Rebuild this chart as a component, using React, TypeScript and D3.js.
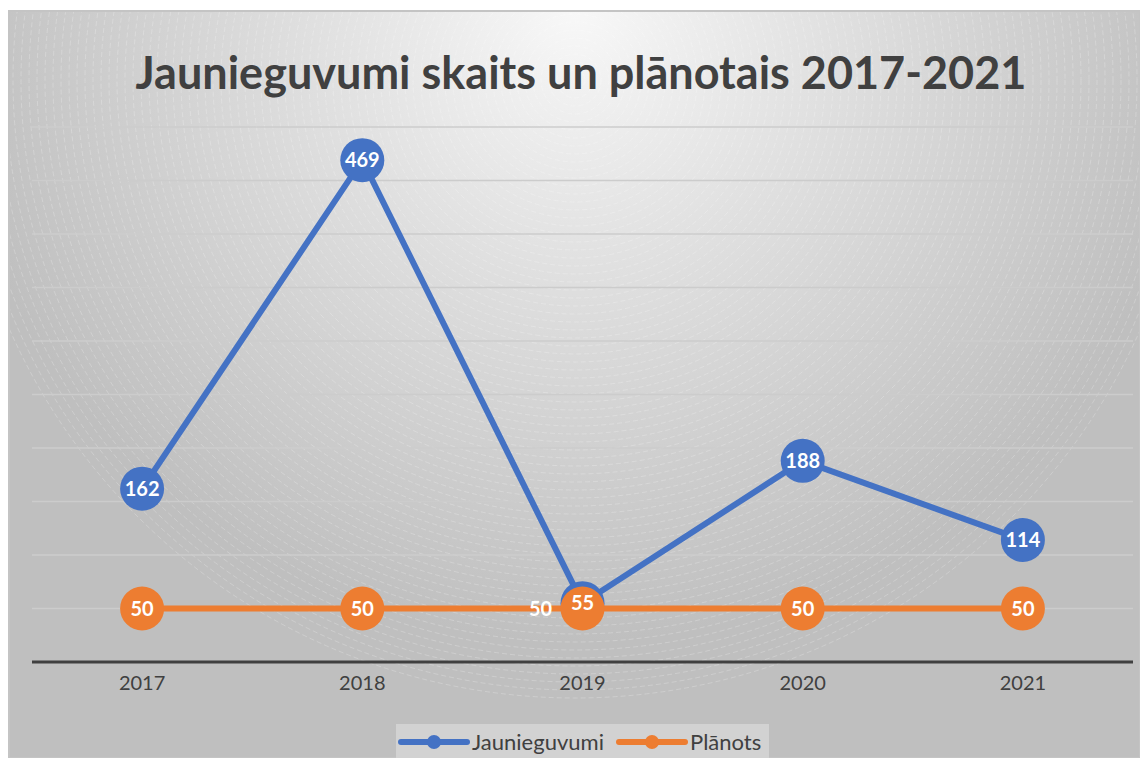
import React from "react";
import * as d3 from "d3";

const years = ["2017", "2018", "2019", "2020", "2021"];
const jaunieguvumi = [162, 469, 55, 188, 114];
const planots = [50, 50, 50, 50, 50];
const yTicks = [0, 50, 100, 150, 200, 250, 300, 350, 400, 450, 500];
const seriesNames = ["Jaunieguvumi", "Plānots"];
const colors = ["#4472C4", "#ED7D31"];
const title = "Jaunieguvumi skaits un plānotais 2017-2021";

const W = 1140;
const H = 758;
const FONT = "Lato, 'Open Sans', sans-serif";

export default function App() {
  const x = d3.scaleBand<string>().domain(years).range([32, 1133]);
  const y = d3.scaleLinear().domain([0, 500]).range([662, 127]);
  const cx = (d: string) => (x(d) as number) + x.bandwidth() / 2;

  const line = d3
    .line<number>()
    .x((_, i) => cx(years[i]))
    .y((v) => y(v));

  const rings = d3.range(10, 620, 8);
  const series = [jaunieguvumi, planots];
  const R = 22;

  return (
    <svg
      width={W}
      height={H}
      style={{ position: "absolute", left: 0, top: 0, display: "block" }}
    >
      <defs>
        <radialGradient
          id="bg"
          gradientUnits="userSpaceOnUse"
          cx={575}
          cy={10}
          r={680}
        >
          <stop offset="0" stopColor="#f8f8f8" />
          <stop offset="0.35" stopColor="#e2e2e2" />
          <stop offset="0.93" stopColor="#bfbfbf" />
          <stop offset="1" stopColor="#bfbfbf" />
        </radialGradient>
        <clipPath id="frameClip">
          <rect x={9} y={11} width={1131} height={747} />
        </clipPath>
      </defs>
      <rect x={0} y={0} width={W} height={H} fill="#ffffff" />
      <rect x={9} y={11} width={1131} height={747} fill="url(#bg)" />
      <g clipPath="url(#frameClip)">
        {rings.map((r) => (
          <circle
            key={r}
            cx={575}
            cy={80}
            r={r}
            fill="none"
            stroke="#ffffff"
            strokeOpacity={0.28}
            strokeWidth={0.8}
            strokeDasharray="5 3"
          />
        ))}
      </g>
      <rect
        x={9}
        y={11}
        width={1131}
        height={747}
        fill="none"
        stroke="#c4c4c4"
        strokeWidth={2}
      />

      <text
        x={581}
        y={89}
        textAnchor="middle"
        fontFamily={FONT}
        fontWeight={700}
        fontSize={45}
        fill="#404040"
      >
        {title}
      </text>

      {yTicks.slice(1).map((t) => (
        <line
          key={t}
          x1={32}
          x2={1133}
          y1={y(t)}
          y2={y(t)}
          stroke="#cccccc"
          strokeWidth={1.5}
        />
      ))}

      <line x1={32} x2={1133} y1={y(0)} y2={y(0)} stroke="#404040" strokeWidth={3} />

      {years.map((yr) => (
        <text
          key={yr}
          x={cx(yr)}
          y={690}
          textAnchor="middle"
          fontFamily={FONT}
          fontSize={20}
          fill="#404040"
        >
          {yr}
        </text>
      ))}

      {series.map((s, si) => (
        <g key={si}>
          <path
            d={line(s) || ""}
            fill="none"
            stroke={colors[si]}
            strokeWidth={6}
            strokeLinejoin="round"
          />
          {s.map((v, i) => (
            <circle key={i} cx={cx(years[i])} cy={y(v)} r={R} fill={colors[si]} />
          ))}
        </g>
      ))}

      {series.map((s, si) =>
        s.map((v, i) => {
          const overlap = si === 1 && Math.abs(jaunieguvumi[i] - v) < 15;
          const lx = overlap ? cx(years[i]) - 42 : cx(years[i]);
          return (
            <text
              key={si + "-" + i}
              x={lx}
              y={y(v) + 7}
              textAnchor="middle"
              fontFamily={FONT}
              fontWeight={700}
              fontSize={20}
              fill="#ffffff"
            >
              {v}
            </text>
          );
        })
      )}

      <rect x={396} y={724} width={373} height={40} fill="#d2d2d2" />
      {seriesNames.map((n, i) => {
        const x0 = i === 0 ? 401 : 619;
        return (
          <g key={n}>
            <line
              x1={x0}
              x2={x0 + 66}
              y1={742}
              y2={742}
              stroke={colors[i]}
              strokeWidth={6}
              strokeLinecap="round"
            />
            <circle cx={x0 + 33} cy={742} r={7} fill={colors[i]} />
            <text
              x={x0 + 71}
              y={750}
              fontFamily={FONT}
              fontSize={22}
              fill="#404040"
            >
              {n}
            </text>
          </g>
        );
      })}
    </svg>
  );
}
